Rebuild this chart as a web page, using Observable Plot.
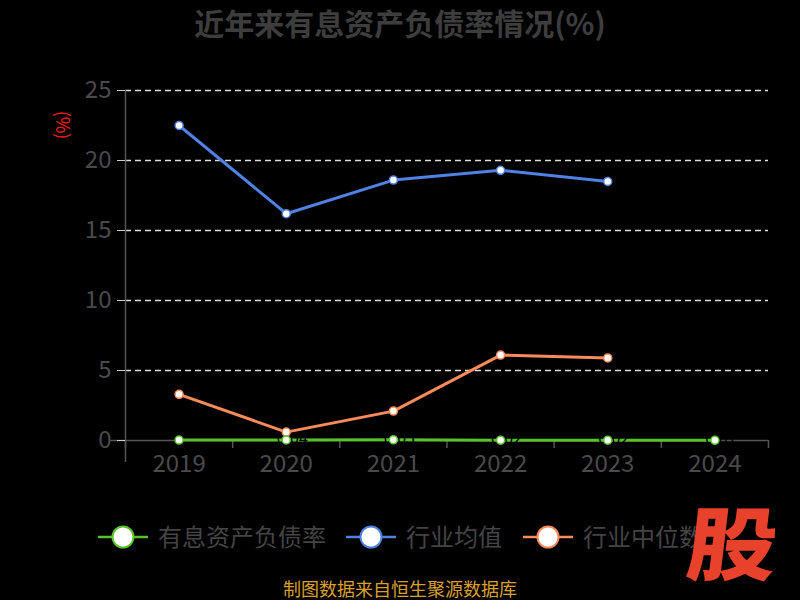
<!DOCTYPE html>
<html><head><meta charset="utf-8">
<script src="https://cdn.jsdelivr.net/npm/d3@7"></script>
<script src="https://cdn.jsdelivr.net/npm/@observablehq/plot@0.6"></script>
<style>
body{margin:0;background:#000;}
#wrap{position:relative;width:800px;height:600px;background:#000;overflow:hidden;font-family:"Noto Sans CJK SC","Noto Sans",sans-serif;}
#title{position:absolute;top:2px;left:0;width:800px;text-align:center;font-size:30px;line-height:40px;font-weight:bold;color:#3d3d3d;}
#chart{position:absolute;top:0;left:0;}
#legend{position:absolute;top:0;left:0;}
#caption{position:absolute;top:577px;left:0;width:800px;text-align:center;font-size:18px;line-height:22px;color:#d9a12c;}
#logo{position:absolute;left:693px;top:499px;font-size:80px;line-height:1;font-weight:900;color:#e8412c;transform:scaleX(1.12) skewX(-6deg);transform-origin:left top;}
#unit{position:absolute;left:50px;top:114px;color:#ff1a1a;font-size:18px;line-height:22px;transform:rotate(90deg);transform-origin:center;}
</style></head>
<body><div id="wrap">
<div id="chart"></div>
<div id="title">近年来有息资产负债率情况(%)</div>
<div id="unit">(%)</div>
<svg id="legend" width="800" height="600"></svg>
<div id="caption">制图数据来自恒生聚源数据库</div>
<div id="logo">股</div>
</div>
<script>
const years = [2019, 2020, 2021, 2022, 2023, 2024];
const seriesNames = ["有息资产负债率", "行业均值", "行业中位数"];
const colors = ["#57c22a", "#4f82e3", "#f78b5c"];
const companyVals = [0.03, 0.04, 0.05, 0.02, 0.02, 0.01];
const companyLabels = ["", "0.04", "0.05", "0.02", "0.02", "0.01"];
const avgYears = [2019, 2020, 2021, 2022, 2023];
const avgVals = [22.5, 16.2, 18.6, 19.3, 18.5];
const medVals = [3.3, 0.6, 2.1, 6.1, 5.9];
const yTicks = [0, 5, 10, 15, 20, 25];

const company = years.map((y, i) => ({year: y, v: companyVals[i], label: companyLabels[i]}));
const avg = avgYears.map((y, i) => ({year: y, v: avgVals[i]}));
const med = avgYears.map((y, i) => ({year: y, v: medVals[i]}));
const bounds = d3.range(years.length + 1).map(i => years[0] - 0.5 + i);

const plot = Plot.plot({
  width: 800, height: 480,
  marginTop: 90, marginBottom: 40, marginLeft: 125, marginRight: 32,
  style: {background: "transparent", fontFamily: "'Noto Sans CJK SC','Noto Sans',sans-serif"},
  x: {type: "linear", domain: [years[0] - 0.5, years[years.length - 1] + 0.5]},
  y: {domain: [0, 25]},
  marks: [
    Plot.ruleY(yTicks.filter(d => d > 0), {x1: years[0] - 0.5, x2: years[years.length - 1] + 0.5, stroke: "#ddd", strokeWidth: 1.3, strokeDasharray: "6,4"}),
    Plot.ruleX([years[0] - 0.5], {y1: -1.57, y2: 25, stroke: "#555", strokeWidth: 1.5}),
    Plot.ruleY([0], {x1: years[0] - 0.64, x2: years[years.length - 1] + 0.5, stroke: "#555", strokeWidth: 1.5}),
    Plot.axisX({ticks: bounds, tickFormat: () => "", tickSize: 8, stroke: "#555", strokeWidth: 1.5, label: null}),
    Plot.axisX({ticks: years, tickFormat: d => String(d), tickSize: 0, tickPadding: 14, fontSize: 24, color: "#4a4a4a", stroke: "transparent", label: null}),
    Plot.axisY({ticks: yTicks, tickSize: 8, tickPadding: 6, fontSize: 24, color: "#4a4a4a", stroke: "#ccc", label: null}),
    Plot.line(avg, {x: "year", y: "v", stroke: colors[1], strokeWidth: 3}),
    Plot.line(med, {x: "year", y: "v", stroke: colors[2], strokeWidth: 3}),
    Plot.line(company, {x: "year", y: "v", stroke: colors[0], strokeWidth: 3}),
    Plot.text(company, {x: "year", y: "v", text: "label", fill: "#000", fontSize: 16, dx: 6, dy: -1}),
    Plot.dot(avg, {x: "year", y: "v", r: 4, fill: "#fff", stroke: colors[1], strokeWidth: 1.5}),
    Plot.dot(med, {x: "year", y: "v", r: 4, fill: "#fff", stroke: colors[2], strokeWidth: 1.5}),
    Plot.dot(company, {x: "year", y: "v", r: 4, fill: "#fff", stroke: colors[0], strokeWidth: 1.5})
  ]
});
document.getElementById("chart").appendChild(plot);

// legend
const lg = d3.select("#legend");
const lx = [98, 346, 523];
seriesNames.forEach((n, i) => {
  const g = lg.append("g").attr("transform", `translate(${lx[i]},537)`);
  g.append("line").attr("x1", 0).attr("x2", 50).attr("stroke", colors[i]).attr("stroke-width", 2.5);
  g.append("circle").attr("cx", 25).attr("r", 10.5).attr("fill", "#fff").attr("stroke", colors[i]).attr("stroke-width", 2);
  g.append("text").attr("x", 60).attr("y", 8.5).attr("fill", "#444").attr("font-size", 24)
    .attr("font-family", "'Noto Sans CJK SC',sans-serif").text(n);
});
</script>
</body></html>
